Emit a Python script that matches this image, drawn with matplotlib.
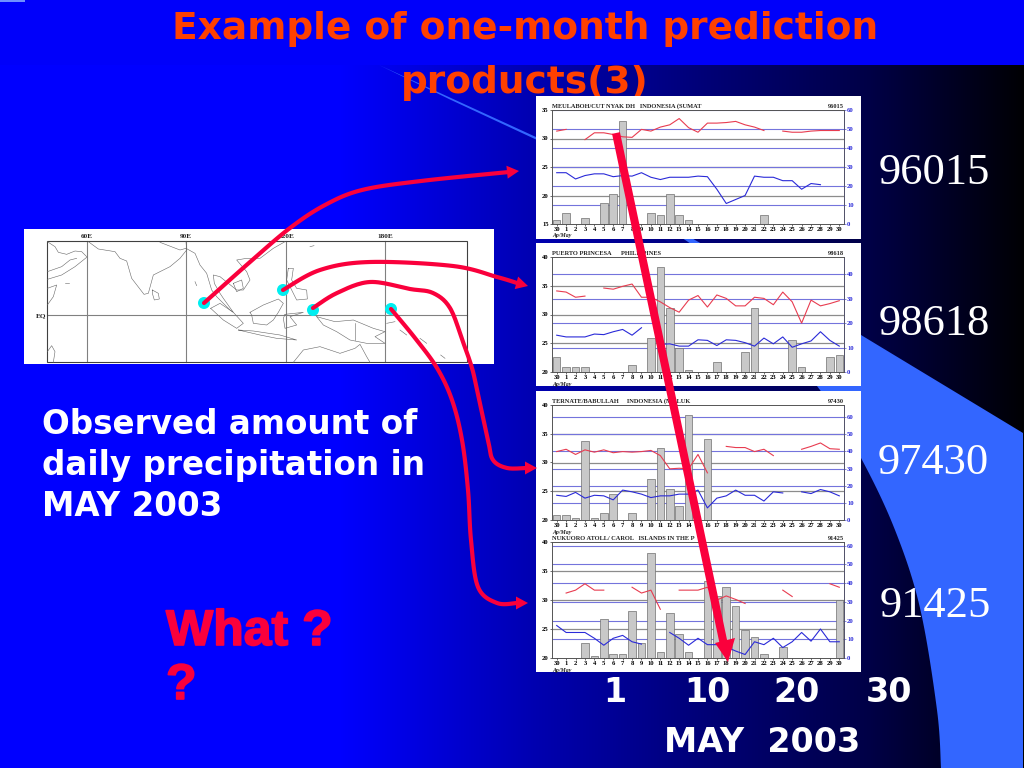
import matplotlib
matplotlib.use('Agg')
import matplotlib.pyplot as plt
import matplotlib.patheffects as pe
import numpy as np
from matplotlib.patches import Rectangle, Polygon, Circle

W, H = 1024, 768
nan = np.nan

days = [30] + list(range(1, 31))

names = ['MEULABOH/CUT NYAK DH   INDONESIA (SUMAT',
         'PUERTO PRINCESA      PHILIPPINES',
         'TERNATE/BABULLAH     INDONESIA (MALUK',
         'NUKUORO ATOLL/ CAROL   ISLANDS IN THE P']
stations = ['96015', '98618', '97430', '91425']

tmax1 = [31.3, 31.6, nan, 29.8, 31, 31, 30.7, 30.3, 30.2, 31.6, 31.3, 32, 32.4, 33.5, 31.9, 31.1,
         32.7, 32.7, 32.8, 33, 32.4, 32, 31.4, nan, 31.3, 31.1, 31.1, 31.3, 31.4, 31.4, 31.4]
tmin1 = [24, 24, 22.9, 23.5, 23.8, 23.8, 23.3, 23.5, 23.4, 24, 23.2, 22.8, 23.2, 23.2, 23.2, 23.4,
         23.3, 21.1, 18.6, 19.3, 20, 23.4, 23.2, 23.2, 22.6, 22.6, 21.1, 22.1, 21.9, nan, nan]
rain1 = [2, 6, 0, 3, 0, 11, 16, 54, 0, 0, 6, 5, 16, 5, 2, 0, 0, 0, 0, 0, 0, 0, 5, 0, 0, 0, 0, 0, 0, 0, 0]

tmax2 = [34.1, 33.9, 33, 33.2, nan, 34.6, 34.4, 34.9, 35.3, 33, 33, 32.2, 31.2, 30.4, 32.5, 33.3,
         31.3, 33.4, 32.8, 31.5, 31.5, 33, 32.8, 31.7, 33.9, 32.2, 28.5, 32.5, 31.5, 31.9, 32.4]
tmin2 = [26.4, 26.1, 26.1, 26.1, 26.6, 26.5, 27, 27.4, 26.4, 27.7, nan, 24.8, 24.9, 24.5, 24.5, 25.6,
         25.5, 24.6, 25.6, 25.5, 25.1, 24.5, 25.9, 24.9, 26.1, 24.3, 24.9, 25.4, 27, 25.5, 24.5]
rain2 = [6, 2, 2, 2, 0, 0, 0, 0, 3, 0, 14, 43, 26, 10, 1, 0, 0, 4, 0, 0, 8, 26, 0, 0, 0, 13, 2, 0, 0, 6, 7]

tmax3 = [31.9, 32.3, 31.4, 32.2, 31.8, 32.2, 31.7, 31.9, 31.8, 31.9, 32.1, 31.2, 28.9, 29, 28.9, 31.4,
         28.2, nan, 32.8, 32.6, 32.6, 31.9, 32.3, 31.2, nan, nan, 32.3, 32.8, 33.4, 32.4, 32.3]
tmin3 = [24.3, 24.1, 24.8, 23.8, 24.3, 24.2, 23.5, 25.2, 24.9, 24.5, 23.9, 24.2, 24.2, 24.5, 24.5, 25.2,
         22.1, 23.8, 24.2, 25.2, 24.3, 24.3, 23.3, 24.9, 24.7, nan, 24.9, 24.6, 25.3, 24.9, 24.2]
rain3 = [3, 3, 1, 46, 1, 4, 15, 0, 4, 0, 24, 42, 18, 8, 61, 0, 47, 0, 0, 0, 0, 0, 0, 0, 0, 0, 0, 0, 0, 0, 0]

tmax4 = [nan, 31.2, 31.7, 32.8, 31.7, 31.7, nan, nan, 32.2, 31.2, 31.7, 28.4, nan, 31.7, 31.7, 31.7,
         32.2, 30, 30.7, 30.1, 29.4, nan, nan, nan, 31.7, 30.6, nan, nan, nan, 32.8, 32.2]
tmin4 = [25.6, 24.4, 24.4, 24.4, 23.4, 22.2, 23.4, 23.9, 22.8, 22.4, nan, nan, 24.4, 23.4, 22.2, 23.4,
         22.3, 22.3, 21.9, 21.2, 20.6, 22.8, 22.3, 23.4, 21.8, 22.8, 24.4, 22.9, 25, 22.8, 22.8]
rain4 = [0, 0, 0, 8, 1, 21, 2, 2, 25, 8, 56, 3, 24, 13, 3, 0, 41, 33, 38, 28, 15, 11, 2, 0, 6, 0, 0, 0, 0, 0, 31]

tmax_all = [tmax1, tmax2, tmax3, tmax4]
tmin_all = [tmin1, tmin2, tmin3, tmin4]
rain_all = [rain1, rain2, rain3, rain4]
left_lim = [(15, 35), (20, 40), (20, 40), (20, 40)]
right_top = [60, 47, 67, 62]
right_ticks = [range(0, 61, 10), range(0, 41, 10), range(0, 61, 10), range(0, 61, 10)]

# pixel boxes: plot area top / bottom, then white card top / bottom
plot_y = [(110, 224), (257, 372), (405, 520), (542, 658)]
card_y = [(96, 239), (243, 386), (391, 541), (541, 672)]
PLOT_X = (552, 844)

# map outlines, in 3x crop pixels
coast = [
    [(82, 50), (105, 65), (115, 82), (140, 88), (165, 78), (185, 80), (200, 95)],
    [(82, 163), (125, 150), (165, 125), (200, 97)],
    [(82, 140), (125, 125), (150, 105), (170, 100)],
    [(82, 190), (110, 180), (100, 215), (82, 240)],
    [(82, 380), (95, 362), (105, 380), (100, 412)],
    [(205, 50), (235, 72), (285, 80), (300, 100), (320, 108), (335, 160), (372, 208), (385, 205),
     (400, 150), (450, 125), (480, 100), (500, 75), (498, 50)],
    [(420, 52), (480, 75), (498, 70)],
    [(397, 195), (415, 205), (418, 222), (403, 225), (397, 205), (397, 195)],
    [(498, 70), (525, 85), (540, 120), (560, 145), (575, 195), (590, 215), (630, 255), (640, 262),
     (610, 220), (600, 205), (583, 175), (580, 150), (600, 155), (625, 175), (650, 195), (670, 195),
     (690, 165), (680, 140), (650, 105), (680, 100), (720, 100), (760, 70), (795, 50)],
    [(572, 250), (610, 285), (650, 310), (670, 295), (640, 262), (600, 235), (572, 250)],
    [(655, 315), (720, 330), (770, 340), (830, 345), (780, 330), (700, 318), (655, 315)],
    [(690, 262), (730, 240), (775, 222), (790, 235), (775, 262), (760, 285), (740, 300), (700, 295),
     (695, 270), (690, 262)],
    [(795, 268), (850, 262), (810, 275), (830, 300), (795, 310), (790, 280), (795, 268)],
    [(805, 130), (820, 130), (815, 165), (830, 190), (860, 195), (862, 222), (830, 225), (820, 205),
     (800, 165), (805, 130)],
    [(640, 175), (665, 165), (670, 190), (650, 200), (640, 175)],
    [(890, 275), (945, 290), (1000, 285), (1060, 310), (1095, 320), (1065, 335), (1095, 355),
     (1040, 355), (990, 345), (950, 320), (910, 300), (890, 275)],
    [(1005, 295), (1005, 345)],
    [(820, 412), (850, 375), (900, 365), (960, 385), (1005, 370), (1020, 358), (1040, 395), (1050, 412)],
    [(1140, 315), (1160, 330)], [(1200, 340), (1220, 355)], [(1262, 390), (1275, 400)],
    [(1100, 295), (1125, 290)], [(135, 175), (148, 175)], [(870, 65), (882, 62)], [(525, 170), (530, 182)],
]
map_dots = [(204, 303), (283, 290), (313, 310), (391, 309)]
map_lon_x = [87, 186, 286, 385]
map_lon_labels = ['60E', '90E', '120E', '180E']

arrows = [
    [(204, 303), (250, 262), (290, 228), (325, 205), (362, 190), (421, 181), (509, 172)],
    [(283, 290), (320, 270), (370, 262), (453, 266), (497, 277), (517, 283)],
    [(313, 308), (337, 293), (370, 282), (410, 289), (433, 293), (450, 308), (463, 342), (472, 368),
     (477, 390), (488, 440), (493, 460), (507, 468), (526, 468)],
    [(391, 309), (415, 338), (437, 368), (452, 400), (462, 440), (468, 490), (471, 540), (478, 587),
     (497, 603), (517, 603)],
]
arrow_tips = [(519, 171), (528, 286), (537, 468), (528, 603)]

# left edge of the pale blue shape, bottom to top
shape_edge = [(941, 768), (937, 710), (920, 608), (895, 530), (861, 458), (820, 390), (760, 320), (700, 250)]
shape_tip = [(536, 139.5), (450, 99.5), (379, 65)]

RED = '#fa003c'
ORANGE = '#ff4000'
GREY = '#8c8c8c'
GRID_BLUE = '#7474dc'
BOLD = 'DejaVu Sans'


def smooth(pts, n=14):
    # catmull-rom through the read points
    p = np.array([pts[0]] + list(pts) + [pts[-1]], dtype=float)
    out = []
    for i in range(1, len(p) - 2):
        for t in np.linspace(0, 1, n, endpoint=False):
            out.append(0.5 * (2 * p[i] + (p[i + 1] - p[i - 1]) * t
                              + (2 * p[i - 1] - 5 * p[i] + 4 * p[i + 1] - p[i + 2]) * t ** 2
                              + (3 * p[i] - p[i - 1] - 3 * p[i + 1] + p[i + 2]) * t ** 3))
    out.append(p[-1])
    return np.array(out)


def head(ax, base, tip, half, back):
    base = np.array(base, float)
    tip = np.array(tip, float)
    d = (tip - base) / np.linalg.norm(tip - base)
    n = np.array([-d[1], d[0]])
    ax.add_patch(Polygon([tip, tip - d * back + n * half, tip - d * back - n * half],
                         color=RED, lw=0, zorder=6))


fig = plt.figure(figsize=(W / 100, H / 100), dpi=100)

# page background
bg = fig.add_axes([0, 0, 1, 1], zorder=0)
bg.set_xlim(0, W)
bg.set_ylim(H, 0)
bg.axis('off')
shade = np.interp(np.arange(W), [0, 340, 530, 700, 870, 1020, 1024], [255, 255, 178, 120, 70, 5, 0])
grad = np.zeros((1, W, 3))
grad[0, :, 2] = shade / 255
bg.imshow(grad, extent=(0, W, H, 0), aspect='auto', zorder=0)
bg.add_patch(Rectangle((0, 0), W, 65, color='#0000fa', lw=0, zorder=1))
bg.add_patch(Rectangle((0, 0), 25, 1.5, color='#6f8fff', lw=0, zorder=1))
edge = smooth(shape_edge)
upper = [(379, 65), (536, 137), (695, 240), (861, 335), (1023, 433), (1023, 768)]
bg.add_patch(Polygon(upper + [tuple(q) for q in edge] + shape_tip, color='#3366ff', lw=0, zorder=1))

bg.text(525, 29, 'Example of one-month prediction', color=ORANGE, family=BOLD, weight='bold',
        fontsize=27, ha='center', va='center', zorder=2)
bg.text(525, 83, 'products(3)', color=ORANGE, family=BOLD, weight='bold',
        fontsize=27, ha='center', va='center', zorder=2)

for label, y in zip(['Observed amount of', 'daily precipitation in', 'MAY 2003'], [425, 466, 507]):
    bg.text(42, y, label, color='white', family=BOLD, weight='bold', fontsize=23.5,
            ha='left', va='center', zorder=2)
thick = [pe.withStroke(linewidth=1.2, foreground=RED)]
bg.text(166, 632, 'What ?', color=RED, family='Liberation Sans', weight='bold', fontsize=36,
        ha='left', va='center', zorder=2, path_effects=thick)
bg.text(166, 686, '?', color=RED, family='Liberation Sans', weight='bold', fontsize=36,
        ha='left', va='center', zorder=2, path_effects=thick)

for label, x in zip(['1', '10', '20', '30'], [615, 707, 797, 889]):
    bg.text(x, 692, label, color='white', family=BOLD, weight='bold', fontsize=24,
            ha='center', va='center', zorder=2)
bg.text(762, 743, 'MAY  2003', color='white', family=BOLD, weight='bold', fontsize=24,
        ha='center', va='center', zorder=2)

for label, x, y in zip(stations, [934, 934, 933, 935], [173, 324, 463, 606]):
    bg.text(x, y, label, color='white', family='Liberation Serif', fontsize=32, ha='center', va='center',
            zorder=2)

# white cards
for top, bottom in card_y:
    bg.add_patch(Rectangle((536, top), 325, bottom - top, color='white', lw=0, zorder=3))

# map card
bg.add_patch(Rectangle((24, 229), 470, 135, color='white', lw=0, zorder=3))
for x, label in zip(map_lon_x, map_lon_labels):
    bg.plot([x, x], [241, 362], color='#808080', lw=0.8, zorder=4)
    bg.text(x, 237, label, fontsize=5.2, family='Liberation Serif', weight='bold', color='#222222',
            ha='center', va='center', zorder=4)
bg.plot([47, 467], [315, 315], color='#808080', lw=0.8, zorder=4)
bg.add_patch(Rectangle((47, 241), 420, 121, fill=False, edgecolor='#404040', lw=0.8, zorder=4))
bg.text(41, 316, 'EQ', fontsize=5.2, family='Liberation Serif', weight='bold', color='#222222',
        ha='center', va='center', zorder=4)
for part in coast:
    pts = np.array(part, float)
    bg.plot(pts[:, 0] / 3 + 20, pts[:, 1] / 3 + 225, color='#666666', lw=0.4, zorder=4)

# station panels
for i in range(4):
    top, bottom = plot_y[i]
    rect = [PLOT_X[0] / W, 1 - bottom / H, (PLOT_X[1] - PLOT_X[0]) / W, (bottom - top) / H]
    ax = fig.add_axes(rect, zorder=2)
    ax2 = ax.twinx()
    ax.set_zorder(3)
    ax2.set_zorder(2)
    ax.patch.set_visible(False)
    lo, hi = left_lim[i]
    ax.set_xlim(-0.5, 30.5)
    ax.set_ylim(lo, hi)
    ax2.set_ylim(0, right_top[i])

    for v in range(lo, hi + 1, 5):
        if v not in (lo, hi):
            ax2.axhline((v - lo) / (hi - lo) * right_top[i], color=GREY, lw=0.9, zorder=1)
    for v in right_ticks[i]:
        if v > 0:
            ax2.axhline(v, color=GRID_BLUE, lw=0.8, zorder=1)
    ax2.bar(range(31), rain_all[i], width=0.8, color='#c8c8c8', edgecolor='#707070', linewidth=0.5, zorder=2)

    ax.plot(range(31), tmax_all[i], color='#e83c50', lw=0.8)
    ax.plot(range(31), tmin_all[i], color='#2a2ad8', lw=0.8)

    ax.set_xticks(range(31))
    ax.set_xticklabels(days)
    ax.set_yticks(range(lo, hi + 1, 5))
    ax.tick_params(axis='x', labelsize=4.8, length=1.5, width=0.4, pad=0.8)
    ax.tick_params(axis='y', labelsize=4.8, length=1.5, width=0.4, pad=0.8)
    ax2.set_yticks(list(right_ticks[i]))
    ax2.tick_params(axis='y', labelsize=4.8, length=1.5, width=0.4, pad=0.8, colors='#2a2ad8')
    for a in (ax, ax2):
        for lab in a.get_xticklabels() + a.get_yticklabels():
            lab.set_family('Liberation Serif')
            lab.set_weight('bold')
        for side in a.spines.values():
            side.set_linewidth(0.6)
            side.set_color('#555555')
    ax2.spines['right'].set_color('#2a2ad8')

    ax.text(0, 1.005, names[i], transform=ax.transAxes, fontsize=4.6, family='Liberation Serif', weight='bold',
            ha='left', va='bottom', color='#222222')
    ax.text(1, 1.005, stations[i], transform=ax.transAxes, fontsize=4.6, family='Liberation Serif', weight='bold',
            ha='right', va='bottom', color='#222222')
    ax.text(0, -0.105, 'Ap/May', transform=ax.transAxes, fontsize=4.2, family='Liberation Serif', weight='bold',
            style='italic', ha='left', va='center', color='#222222')

# arrows and dots go over everything
top_ax = fig.add_axes([0, 0, 1, 1], zorder=5)
top_ax.set_xlim(0, W)
top_ax.set_ylim(H, 0)
top_ax.axis('off')
top_ax.patch.set_visible(False)

for x, y in map_dots:
    top_ax.add_patch(Circle((x, y), 6, color='#00eef0', lw=0, zorder=4))
for pts, tip in zip(arrows, arrow_tips):
    line = smooth(pts)
    top_ax.plot(line[:, 0], line[:, 1], color=RED, lw=3.0, solid_capstyle='round', solid_joinstyle='round', zorder=5)
    head(top_ax, pts[-1], tip, 6.5, 12)

top_ax.plot([616, 724], [133, 645], color=RED, lw=5.8, solid_capstyle='butt', zorder=5)
top_ax.add_patch(Polygon([(715, 643), (735, 638), (728, 662)], color=RED, lw=0, zorder=6))

fig.savefig('out.png', dpi=100)
